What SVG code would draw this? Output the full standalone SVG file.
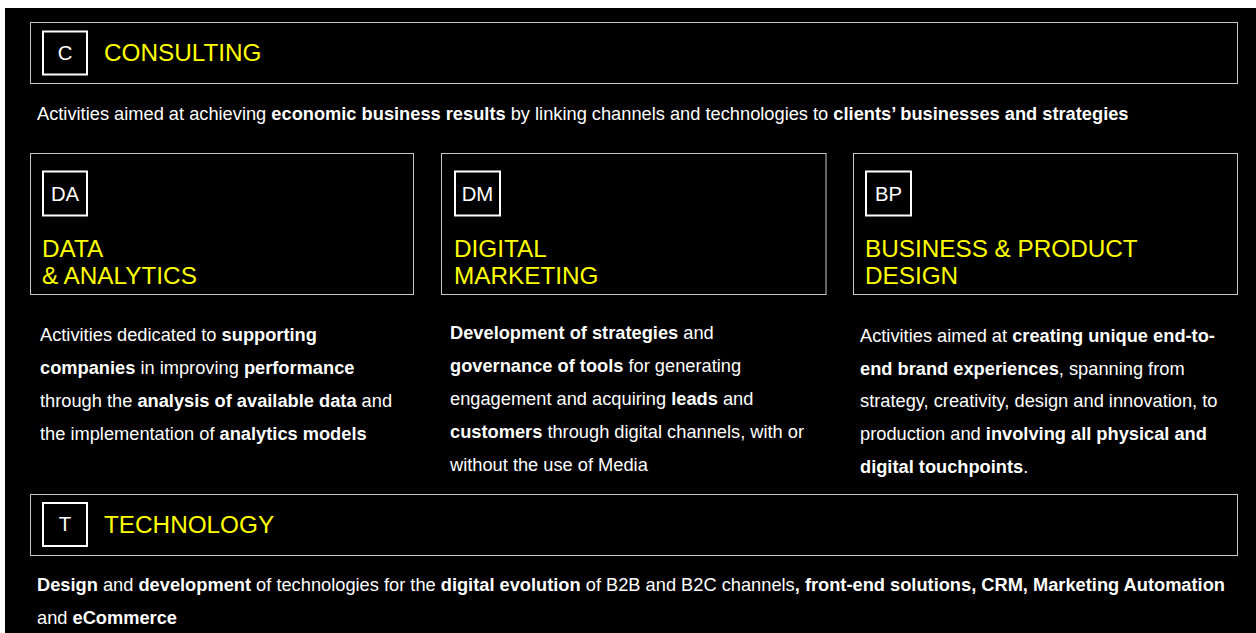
<svg xmlns="http://www.w3.org/2000/svg" width="1256" height="633" viewBox="0 0 1256 633">
  <style>
    text { font-family: "Liberation Sans", Arial, sans-serif; }
    .frame { fill: #000; stroke: #c8c8c8; stroke-width: 1; }
    .badge { fill: none; stroke: #fff; stroke-width: 2; }
    .code { fill: #fff; font-size: 20.3px; text-anchor: middle; }
    .title { fill: #ffff00; font-size: 24.3px; }
    .body { fill: #fff; font-size: 18.25px; }
    .b { font-weight: bold; }
  </style>

  <!-- page -->
  <rect x="0" y="0" width="1256" height="633" fill="#fff"/>
  <rect x="5" y="8" width="1251" height="625" fill="#000"/>

  <!-- Consulting -->
  <g id="consulting">
    <rect class="frame" x="30.5" y="22.5" width="1207" height="61"/>
    <rect class="badge" x="43" y="31.5" width="44" height="43"/>
    <text class="code" x="65" y="60">C</text>
    <text class="title" x="104" y="61">CONSULTING</text>
    <text class="body" x="37" y="120">Activities aimed at achieving <tspan class="b">economic business results</tspan> by linking channels and technologies to <tspan class="b">clients’ businesses and strategies</tspan></text>
  </g>

  <!-- Data & Analytics -->
  <g id="data-analytics">
    <rect class="frame" x="30.5" y="153.5" width="383" height="141"/>
    <rect class="badge" x="43" y="171.5" width="44" height="44"/>
    <text class="code" x="65" y="201">DA</text>
    <text class="title" x="42" y="257">DATA</text>
    <text class="title" x="42" y="284">&amp; ANALYTICS</text>
    <text class="body" x="40" y="341">Activities dedicated to <tspan class="b">supporting</tspan></text>
    <text class="body" x="40" y="374"><tspan class="b">companies</tspan> in improving <tspan class="b">performance</tspan></text>
    <text class="body" x="40" y="407">through the <tspan class="b">analysis of available data</tspan> and</text>
    <text class="body" x="40" y="440">the implementation of <tspan class="b">analytics models</tspan></text>
  </g>

  <!-- Digital Marketing -->
  <g id="digital-marketing">
    <rect class="frame" x="441.5" y="153.5" width="384.5" height="141"/>
    <rect class="badge" x="455" y="171.5" width="45" height="44"/>
    <text class="code" x="477.5" y="201">DM</text>
    <text class="title" x="454" y="257">DIGITAL</text>
    <text class="title" x="454" y="284">MARKETING</text>
    <text class="body" x="450" y="339"><tspan class="b">Development of strategies</tspan> and</text>
    <text class="body" x="450" y="372"><tspan class="b">governance of tools</tspan> for generating</text>
    <text class="body" x="450" y="405">engagement and acquiring <tspan class="b">leads</tspan> and</text>
    <text class="body" x="450" y="438"><tspan class="b">customers</tspan> through digital channels, with or</text>
    <text class="body" x="450" y="471">without the use of Media</text>
  </g>

  <!-- Business & Product Design -->
  <g id="business-product-design">
    <rect class="frame" x="853.5" y="153.5" width="384" height="141"/>
    <rect class="badge" x="866" y="171.5" width="45" height="44"/>
    <text class="code" x="888.5" y="201">BP</text>
    <text class="title" x="865" y="257">BUSINESS &amp; PRODUCT</text>
    <text class="title" x="865" y="284">DESIGN</text>
    <text class="body" x="860" y="342">Activities aimed at <tspan class="b">creating unique end-to-</tspan></text>
    <text class="body" x="860" y="375"><tspan class="b">end brand experiences</tspan>, spanning from</text>
    <text class="body" x="860" y="407">strategy, creativity, design and innovation, to</text>
    <text class="body" x="860" y="440">production and <tspan class="b">involving all physical and</tspan></text>
    <text class="body" x="860" y="473"><tspan class="b">digital touchpoints</tspan>.</text>
  </g>

  <!-- Technology -->
  <g id="technology">
    <rect class="frame" x="30.5" y="494.5" width="1207" height="61"/>
    <rect class="badge" x="43" y="503" width="44" height="43"/>
    <text class="code" x="65" y="531">T</text>
    <text class="title" x="104" y="533">TECHNOLOGY</text>
    <text class="body" x="37" y="591"><tspan class="b">Design</tspan> and <tspan class="b">development</tspan> of technologies for the <tspan class="b">digital evolution</tspan> of B2B and B2C channels<tspan class="b">, front-end solutions, CRM, Marketing Automation</tspan></text>
    <text class="body" x="37" y="624">and <tspan class="b">eCommerce</tspan></text>
  </g>

  <!-- no connectors are drawn between these blocks -->
  <g id="connectors"/>
</svg>
